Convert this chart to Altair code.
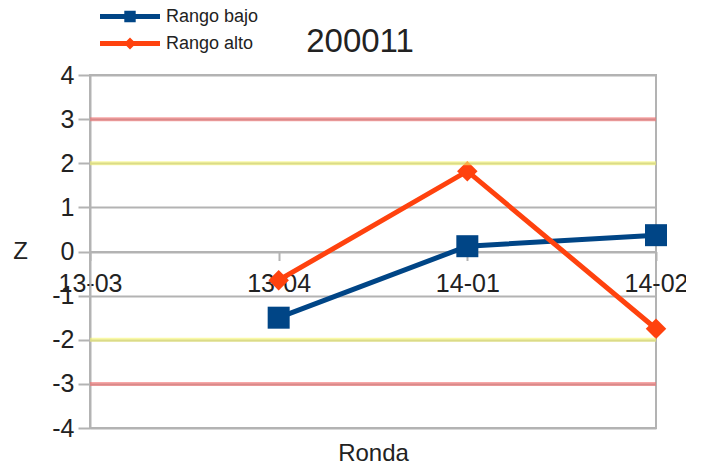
import altair as alt
import pandas as pd

rondas = ["13-03", "13-04", "14-01", "14-02"]
series = ["Rango bajo", "Rango alto"]
rango_bajo = [None, -1.5, 0.12, 0.37]
rango_alto = [None, -0.65, 1.82, -1.75]
umbral_rojo = [3, -3]
umbral_amarillo = [2, -2]

colores = ["#004586", "#ff420e"]

rows = []
for r, b, a in zip(rondas, rango_bajo, rango_alto):
    if b is not None:
        rows.append({"Ronda": r, "Serie": series[0], "Z": b})
    if a is not None:
        rows.append({"Ronda": r, "Serie": series[1], "Z": a})
df = pd.DataFrame(rows)
df_rojo = pd.DataFrame({"Z": umbral_rojo})
df_amarillo = pd.DataFrame({"Z": umbral_amarillo})

W, H = 566, 353
FONT = "Liberation Sans"

x_enc = alt.X(
    "Ronda:O",
    scale=alt.Scale(domain=rondas, type="point", padding=0),
    axis=alt.Axis(
        title="Ronda",
        labelAngle=0,
        offset=-H / 2,
        labelFontSize=25,
        labelColor="#222222",
        labelPadding=11,
        tickSize=9,
        tickColor="#b3b3b3",
        tickWidth=2,
        domainColor="#b3b3b3",
        domainWidth=2,
        grid=False,
        titleFontSize=24,
        titleFontWeight="normal",
        titleColor="#222222",
        titleY=H / 2 + 25,
        titleBaseline="middle",
    ),
)
y_scale = alt.Scale(domain=[-4, 4], nice=False)
y_enc = alt.Y(
    "Z:Q",
    scale=y_scale,
    axis=alt.Axis(
        title="Z",
        titleAngle=0,
        titleX=-70,
        titleY=H / 2,
        titleAlign="center",
        titleBaseline="middle",
        titleFontSize=24,
        titleFontWeight="normal",
        titleColor="#222222",
        values=list(range(-4, 5)),
        labelExpr="datum.value < 0 ? '-' + abs(datum.value) : '' + datum.value",
        labelFontSize=25,
        labelColor="#222222",
        labelPadding=4,
        tickSize=12,
        tickColor="#b3b3b3",
        tickWidth=2,
        domainColor="#b3b3b3",
        domainWidth=2,
        gridColor="#b3b3b3",
        gridWidth=2,
    ),
)

color_scale = alt.Scale(domain=series, range=colores)

legend = alt.Legend(
    title=None,
    orient="none",
    legendX=10,
    legendY=-71,
    symbolSize=3600,
    symbolOpacity=1,
    symbolStrokeWidth=0,
    clipHeight=25,
    labelFontSize=18,
    labelColor="#222222",
    rowPadding=2,
    labelOffset=6,
)

color_enc = alt.Color("Serie:N", scale=color_scale, legend=legend)

lines = alt.Chart(df).mark_line(strokeWidth=5).encode(
    x=x_enc, y=y_enc,
    color=color_enc,
    detail="Serie:N",
)

pts_bajo = alt.Chart(df).transform_filter(
    alt.datum.Serie == series[0]
).mark_point(shape="square", filled=True, size=484, opacity=1).encode(
    x=x_enc, y=y_enc,
    color=color_enc,
)

pts_alto = alt.Chart(df).transform_filter(
    alt.datum.Serie == series[1]
).mark_point(shape="diamond", filled=True, size=420, opacity=1).encode(
    x=x_enc, y=y_enc,
    color=color_enc,
)

path_bajo = "M-1,-0.08H1V0.08H-1Z M-0.19,-0.19H0.19V0.19H-0.19Z"
path_alto = "M-1,-0.08H1V0.08H-1Z M0,-0.2L0.2,0L0,0.2L-0.2,0Z"

legend_layer = alt.Chart(df).mark_point(filled=True, opacity=0).encode(
    x=x_enc, y=y_enc,
    color=color_enc,
    shape=alt.Shape("Serie:N", scale=alt.Scale(domain=series, range=[path_bajo, path_alto]), legend=legend),
)

rules_rojo = alt.Chart(df_rojo).mark_rule(strokeWidth=4, opacity=0.6, color="#f26d6d").encode(
    y=alt.Y("Z:Q", scale=y_scale),
)
rules_amarillo = alt.Chart(df_amarillo).mark_rule(strokeWidth=4, opacity=0.6, color="#f5f56a").encode(
    y=alt.Y("Z:Q", scale=y_scale),
)

chart = alt.layer(legend_layer, lines, pts_bajo, pts_alto, rules_rojo, rules_amarillo).properties(
    width=W,
    height=H,
    autosize=alt.AutoSizeParams(type="none"),
    padding={"left": 82, "top": 67, "right": 30, "bottom": 36},
    title=alt.TitleParams(
        "200011", fontSize=33, font=FONT, fontWeight="normal", color="#222222",
        anchor="middle", dx=-13, dy=58, offset=3, frame="group",
    ),
).configure(font=FONT).configure_view(
    stroke="#b3b3b3", strokeWidth=2
)

chart.save("out.html", embed_options={"renderer": "svg", "actions": False})
